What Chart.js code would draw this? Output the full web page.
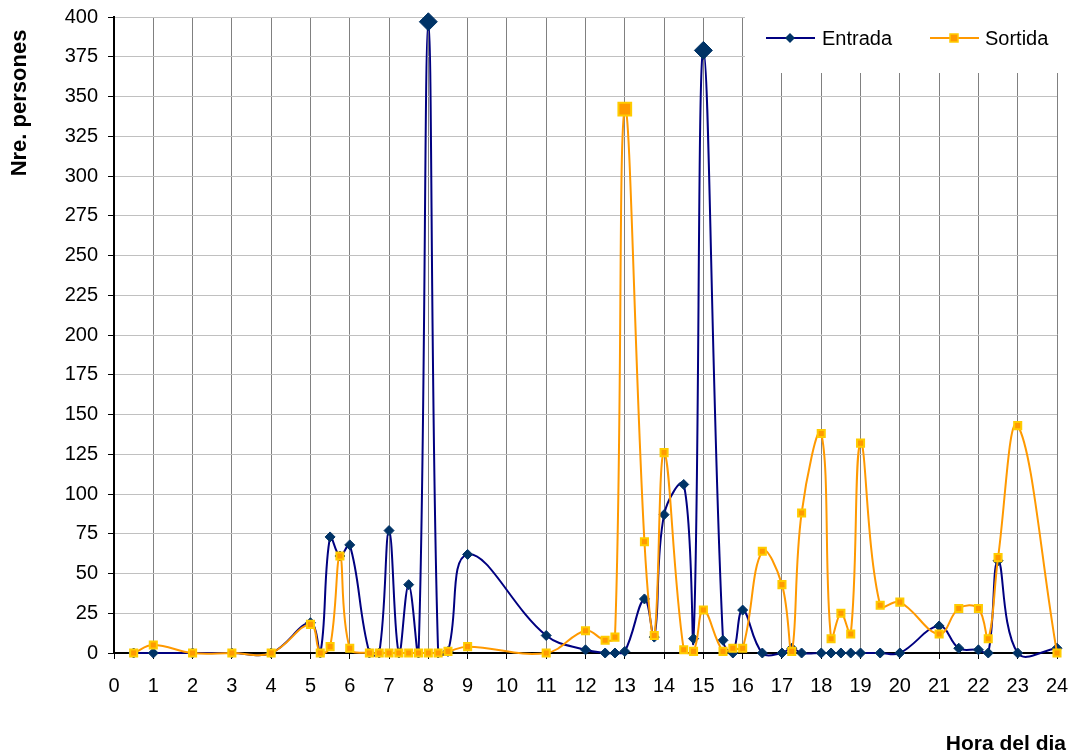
<!DOCTYPE html>
<html>
<head>
<meta charset="utf-8">
<title>Entrada i sortida de persones per hora</title>
<script src="https://cdn.jsdelivr.net/npm/chart.js@4.4.1/dist/chart.umd.min.js"></script>
<style>
  html, body { margin: 0; padding: 0; background: #fff; }
</style>
</head>
<body>
<canvas id="chart" width="1073" height="755"></canvas>
<script>
// Hores amb lectura i persones comptades
const hours = [0.5, 1, 2, 3, 4, 5, 5.25, 5.5, 5.75, 6, 6.5, 6.75, 7, 7.25, 7.5, 7.75, 8, 8.25, 8.5, 9,
    11, 12, 12.5, 12.75, 13, 13.5, 13.75, 14, 14.5, 14.75, 15, 15.5, 15.75, 16, 16.5,
    17, 17.25, 17.5, 18, 18.25, 18.5, 18.75, 19, 19.5, 20, 21, 21.5, 22, 22.25, 22.5, 23, 24];
const entrada = [0, 0, 0, 0, 0, 19, 0, 73, 61, 68, 0, 0, 77, 0, 43, 0, 397, 0, 1, 62,
    11, 2, 0, 0, 1, 34, 10, 87, 106, 9, 379, 8, 0, 27, 0,
    0, 3, 0, 0, 0, 0, 0, 0, 0, 0, 17, 3, 2, 0, 58, 0, 3];
const sortida = [0, 5, 0, 0, 0, 18, 0, 4, 61, 3, 0, 0, 0, 0, 0, 0, 0, 0, 1, 4,
    0, 14, 8, 10, 342, 70, 11, 126, 2, 1, 27, 1, 3, 3, 64,
    43, 1, 88, 138, 9, 25, 12, 132, 30, 32, 12, 28, 28, 9, 60, 143, 0];
const hourTicks = [0, 1, 2, 3, 4, 5, 6, 7, 8, 9, 10, 11, 12, 13, 14, 15, 16, 17, 18, 19, 20, 21, 22, 23, 24];
const personTicks = [0, 25, 50, 75, 100, 125, 150, 175, 200, 225, 250, 275, 300, 325, 350, 375, 400];

const FONT = '"Liberation Sans", Arial, sans-serif';
const BLUE_LINE = '#000080';
const BLUE_MARK = '#003366';
const ORANGE = '#ff9900';
const YELLOW = '#ffcc00';

const toPoints = values => values.map((v, i) => ({ x: hours[i], y: v }));

// titols i llegenda dibuixats a ma (llegenda dins l'area, a dalt a la dreta)
const decorations = {
    id: 'decorations',
    afterDraw(chart) {
        const ctx = chart.ctx;
        ctx.save();

        // llegenda
        ctx.fillStyle = '#fff';
        ctx.fillRect(745, 8, 320, 65);
        const ly = 38;
        ctx.lineWidth = 2;
        ctx.strokeStyle = BLUE_LINE;
        ctx.beginPath(); ctx.moveTo(766, ly); ctx.lineTo(815, ly); ctx.stroke();
        ctx.fillStyle = BLUE_MARK;
        ctx.beginPath();
        ctx.moveTo(785, ly); ctx.lineTo(790, ly - 5); ctx.lineTo(795, ly); ctx.lineTo(790, ly + 5);
        ctx.closePath(); ctx.fill();
        ctx.strokeStyle = ORANGE;
        ctx.beginPath(); ctx.moveTo(930, ly); ctx.lineTo(979, ly); ctx.stroke();
        ctx.fillStyle = ORANGE;
        ctx.fillRect(950, ly - 4, 8, 8);
        ctx.strokeStyle = YELLOW;
        ctx.lineWidth = 1.5;
        ctx.strokeRect(950, ly - 4, 8, 8);

        ctx.fillStyle = '#000';
        ctx.font = '20px ' + FONT;
        ctx.textBaseline = 'middle';
        ctx.textAlign = 'left';
        ctx.fillText('Entrada', 822, ly + 1);
        ctx.fillText('Sortida', 985, ly + 1);

        // titols dels eixos
        ctx.font = 'bold 21px ' + FONT;
        ctx.textAlign = 'right';
        ctx.fillText('Hora del dia', 1066, 744);
        ctx.font = 'bold 22px ' + FONT;
        ctx.translate(20, 103);
        ctx.rotate(-Math.PI / 2);
        ctx.textAlign = 'center';
        ctx.fillText('Nre. persones', 0, 0);
        ctx.restore();
    }
};

new Chart(document.getElementById('chart'), {
    type: 'line',
    data: {
        datasets: [{
            label: 'Entrada',
            data: toPoints(entrada),
            borderColor: BLUE_LINE,
            borderWidth: 2,
            pointStyle: 'rectRot',
            pointRadius: c => (c.raw && c.raw.y > 300 ? 9 : 5),
            pointBackgroundColor: BLUE_MARK,
            pointBorderColor: BLUE_MARK,
            pointBorderWidth: 1,
            order: 2
        }, {
            label: 'Sortida',
            data: toPoints(sortida),
            borderColor: ORANGE,
            borderWidth: 2,
            pointStyle: 'rect',
            pointRadius: c => (c.raw && c.raw.y > 300 ? 9 : 5),
            pointBackgroundColor: ORANGE,
            pointBorderColor: YELLOW,
            pointBorderWidth: 2,
            order: 1
        }]
    },
    options: {
        responsive: false,
        devicePixelRatio: 1,
        animation: false,
        events: [],
        clip: false,
        layout: { padding: { top: 17, right: 16, left: 0, bottom: 0 } },
        elements: {
            line: { tension: 0.4, capBezierPoints: false, fill: false }
        },
        plugins: {
            legend: { display: false },
            tooltip: { enabled: false }
        },
        scales: {
            x: {
                type: 'linear',
                min: 0,
                max: 24,
                afterBuildTicks: s => { s.ticks = hourTicks.map(v => ({ value: v })); },
                afterFit: s => {
                    s.height = 102;
                    s.paddingLeft = 0;
                    s.paddingRight = 0;
                },
                grid: { color: '#808080', lineWidth: 1, tickColor: '#000', tickLength: 6 },
                border: { color: '#000', width: 2 },
                ticks: {
                    autoSkip: false, maxRotation: 0, padding: 15,
                    color: '#000', font: { family: FONT, size: 20 }
                }
            },
            y: {
                min: 0,
                max: 400,
                afterBuildTicks: s => { s.ticks = personTicks.map(v => ({ value: v })); },
                afterFit: s => {
                    s.width = 114;
                    s.paddingTop = 0;
                    s.paddingBottom = 0;
                },
                grid: { color: '#c0c0c0', lineWidth: 1, tickColor: '#000', tickLength: 6 },
                border: { color: '#000', width: 2 },
                ticks: {
                    padding: 10,
                    color: '#000', font: { family: FONT, size: 20 }
                }
            }
        }
    },
    plugins: [decorations]
});
</script>
</body>
</html>
